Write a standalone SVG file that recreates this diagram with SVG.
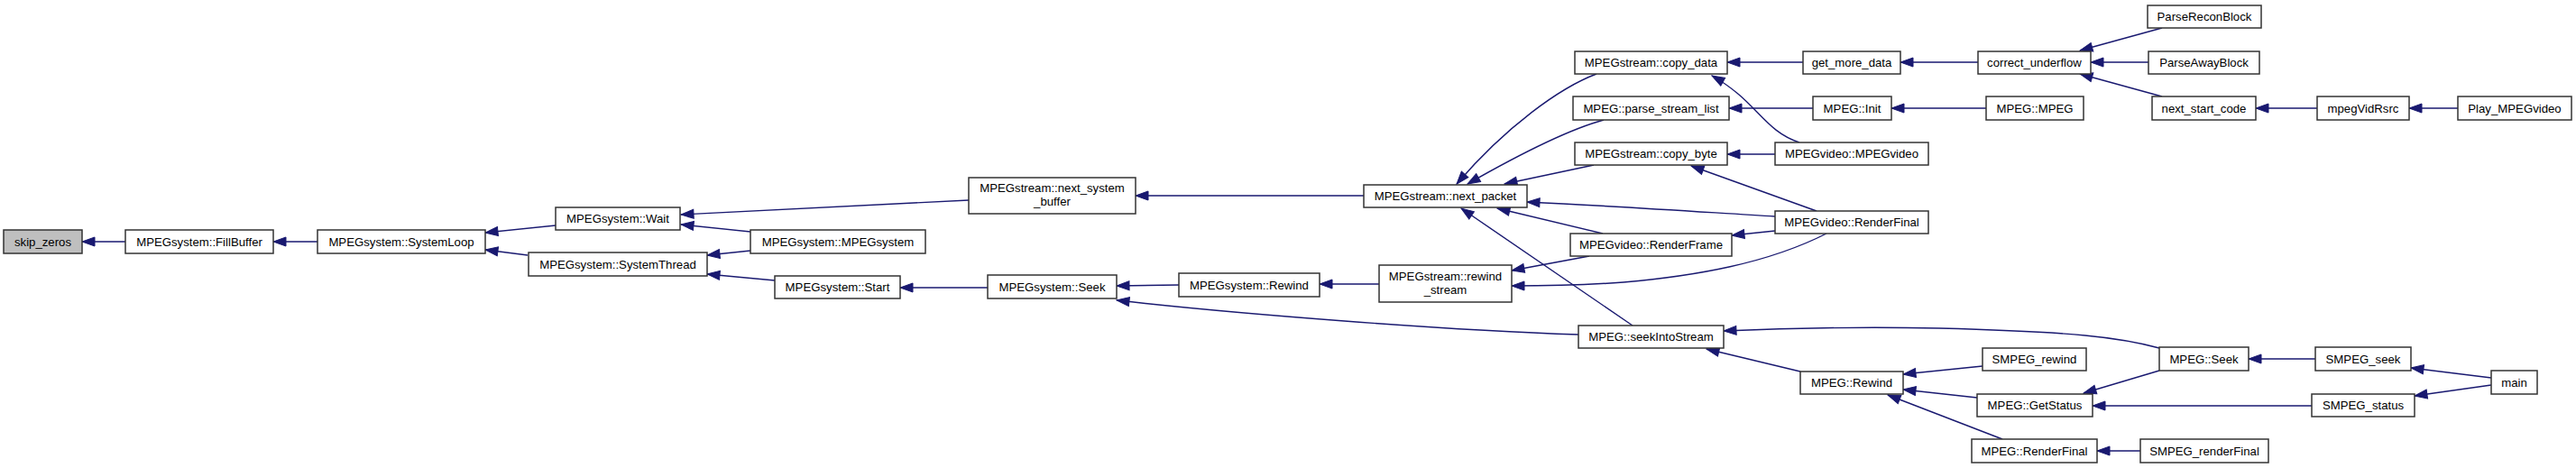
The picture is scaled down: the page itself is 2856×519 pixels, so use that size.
<svg xmlns="http://www.w3.org/2000/svg" width="2856" height="519" viewBox="0 0 2856 519">
<style>
.n rect{fill:#fff;stroke:#333;stroke-width:1.5}
.n text{font-family:"Liberation Sans",Arial,sans-serif;font-size:13.2px;text-anchor:middle;fill:#000}
#n_skip_zeros rect{fill:#bfbfbf}
.e path{fill:none;stroke:#191970;stroke-width:1.4;marker-end:url(#a)}
</style>
<defs>
<marker id="a" markerUnits="userSpaceOnUse" markerWidth="16" markerHeight="12" refX="14" refY="5" orient="auto" overflow="visible"><path d="M0,0 L14,5 L0,10 Z" fill="#191970" stroke="#191970" stroke-width="1"/></marker>
</defs>
<rect width="2856" height="519" fill="#fff"/>
<g id="edges" class="e">
<path d="M139,268 L91,268"/>
<path d="M352,268 L303,268"/>
<path d="M616,250 L538,258"/>
<path d="M585,283 L538,277"/>
<path d="M1074,222 L755,238"/>
<path d="M832,257 L755,249"/>
<path d="M832,278 L784,283"/>
<path d="M859,311 L784,304"/>
<path d="M1095,319 L998,319"/>
<path d="M1307,316 L1238,317"/>
<path d="M1750,371 C1600,366 1370,348 1238,333"/>
<path d="M1529,315 L1463,315"/>
<path d="M1512,217 L1259,217"/>
<path d="M1770,82 C1730,97 1670,140 1615,204"/>
<path d="M1778,133 C1745,142 1690,168 1627,204"/>
<path d="M1767,183 L1668,204"/>
<path d="M1968,240 C1900,236 1800,229 1693,224"/>
<path d="M1777,259 L1660,231"/>
<path d="M1810,361 L1620,231"/>
<path d="M1999,69 L1915,69"/>
<path d="M1995,158 C1955,145 1948,112 1898,84"/>
<path d="M2010,120 L1917,120"/>
<path d="M1968,171 L1915,171"/>
<path d="M2014,234 L1875,184"/>
<path d="M1968,256 L1920,261"/>
<path d="M2025,259 C1960,292 1880,306 1800,313 C1760,316 1720,317 1676,317"/>
<path d="M1762,284 L1676,300"/>
<path d="M2193,69 L2107,69"/>
<path d="M2202,120 L2097,120"/>
<path d="M2397,31 L2306,56"/>
<path d="M2382,69 L2318,69"/>
<path d="M2397,107 L2306,82"/>
<path d="M2569,120 L2501,120"/>
<path d="M2725,120 L2671,120"/>
<path d="M2394,386 C2350,374 2300,368 2150,364 C2050,362 1980,364 1911,367"/>
<path d="M1996,412 L1892,387"/>
<path d="M2198,406 L2110,415"/>
<path d="M2192,441 L2110,432"/>
<path d="M2220,487 L2093,438"/>
<path d="M2394,411 L2310,436"/>
<path d="M2563,450 L2320,450"/>
<path d="M2373,500 L2325,500"/>
<path d="M2567,398 L2493,398"/>
<path d="M2762,419 L2673,408"/>
<path d="M2762,427 L2677,439"/>
</g>
<g id="n_skip_zeros" class="n"><rect x="4" y="255" width="87" height="26"/><text x="47.5" y="272.6">skip_zeros</text></g>
<g id="n_fillbuffer" class="n"><rect x="139" y="255" width="164" height="26"/><text x="221" y="272.6">MPEGsystem::FillBuffer</text></g>
<g id="n_systemloop" class="n"><rect x="352" y="255" width="186" height="26"/><text x="445" y="272.6">MPEGsystem::SystemLoop</text></g>
<g id="n_wait" class="n"><rect x="616" y="230" width="138" height="25"/><text x="685" y="247.1">MPEGsystem::Wait</text></g>
<g id="n_systemthread" class="n"><rect x="586" y="280" width="198" height="26"/><text x="685" y="297.6">MPEGsystem::SystemThread</text></g>
<g id="n_mpegsystem" class="n"><rect x="832" y="255" width="194" height="26"/><text x="929" y="272.6">MPEGsystem::MPEGsystem</text></g>
<g id="n_start" class="n"><rect x="859" y="306" width="139" height="25"/><text x="928.5" y="323.1">MPEGsystem::Start</text></g>
<g id="n_next_system_buffer" class="n"><rect x="1074" y="197" width="185" height="40"/><text x="1166.5" y="213">MPEGstream::next_system</text><text x="1166.5" y="228">_buffer</text></g>
<g id="n_seek" class="n"><rect x="1095" y="305" width="143" height="26"/><text x="1166.5" y="322.6">MPEGsystem::Seek</text></g>
<g id="n_sys_rewind" class="n"><rect x="1307" y="303" width="156" height="26"/><text x="1385" y="320.6">MPEGsystem::Rewind</text></g>
<g id="n_next_packet" class="n"><rect x="1512" y="205" width="181" height="25"/><text x="1602.5" y="222.1">MPEGstream::next_packet</text></g>
<g id="n_rewind_stream" class="n"><rect x="1529" y="294" width="147" height="41"/><text x="1602.5" y="311">MPEGstream::rewind</text><text x="1602.5" y="326">_stream</text></g>
<g id="n_copy_data" class="n"><rect x="1746" y="57" width="169" height="25"/><text x="1830.5" y="74.1">MPEGstream::copy_data</text></g>
<g id="n_parse_stream_list" class="n"><rect x="1744" y="107" width="173" height="26"/><text x="1830.5" y="124.6">MPEG::parse_stream_list</text></g>
<g id="n_copy_byte" class="n"><rect x="1746" y="158" width="169" height="25"/><text x="1830.5" y="175.1">MPEGstream::copy_byte</text></g>
<g id="n_renderframe" class="n"><rect x="1741" y="259" width="179" height="25"/><text x="1830.5" y="276.1">MPEGvideo::RenderFrame</text></g>
<g id="n_seekintostream" class="n"><rect x="1750" y="361" width="161" height="25"/><text x="1830.5" y="378.1">MPEG::seekIntoStream</text></g>
<g id="n_get_more_data" class="n"><rect x="1999" y="57" width="108" height="25"/><text x="2053" y="74.1">get_more_data</text></g>
<g id="n_init" class="n"><rect x="2010" y="107" width="87" height="26"/><text x="2053.5" y="124.6">MPEG::Init</text></g>
<g id="n_mpegvideo" class="n"><rect x="1968" y="158" width="170" height="25"/><text x="2053" y="175.1">MPEGvideo::MPEGvideo</text></g>
<g id="n_video_renderfinal" class="n"><rect x="1968" y="234" width="170" height="25"/><text x="2053" y="251.1">MPEGvideo::RenderFinal</text></g>
<g id="n_mpeg_rewind" class="n"><rect x="1996" y="412" width="114" height="25"/><text x="2053" y="429.1">MPEG::Rewind</text></g>
<g id="n_correct_underflow" class="n"><rect x="2193" y="57" width="125" height="25"/><text x="2255.5" y="74.1">correct_underflow</text></g>
<g id="n_mpeg_mpeg" class="n"><rect x="2202" y="107" width="108" height="26"/><text x="2256" y="124.6">MPEG::MPEG</text></g>
<g id="n_smpeg_rewind" class="n"><rect x="2198" y="386" width="115" height="25"/><text x="2255.5" y="403.1">SMPEG_rewind</text></g>
<g id="n_getstatus" class="n"><rect x="2192" y="437" width="128" height="25"/><text x="2256" y="454.1">MPEG::GetStatus</text></g>
<g id="n_mpeg_renderfinal" class="n"><rect x="2186" y="487" width="139" height="26"/><text x="2255.5" y="504.6">MPEG::RenderFinal</text></g>
<g id="n_parsereconblock" class="n"><rect x="2381" y="6" width="126" height="25"/><text x="2444" y="23.1">ParseReconBlock</text></g>
<g id="n_parseawayblock" class="n"><rect x="2382" y="57" width="123" height="25"/><text x="2443.5" y="74.1">ParseAwayBlock</text></g>
<g id="n_next_start_code" class="n"><rect x="2386" y="107" width="115" height="26"/><text x="2443.5" y="124.6">next_start_code</text></g>
<g id="n_mpeg_seek" class="n"><rect x="2394" y="385" width="99" height="26"/><text x="2443.5" y="402.6">MPEG::Seek</text></g>
<g id="n_smpeg_renderfinal" class="n"><rect x="2373" y="487" width="142" height="26"/><text x="2444" y="504.6">SMPEG_renderFinal</text></g>
<g id="n_mpegvidrsrc" class="n"><rect x="2569" y="107" width="102" height="26"/><text x="2620" y="124.6">mpegVidRsrc</text></g>
<g id="n_smpeg_seek" class="n"><rect x="2567" y="385" width="106" height="26"/><text x="2620" y="402.6">SMPEG_seek</text></g>
<g id="n_smpeg_status" class="n"><rect x="2563" y="437" width="114" height="25"/><text x="2620" y="454.1">SMPEG_status</text></g>
<g id="n_play_mpegvideo" class="n"><rect x="2725" y="107" width="126" height="26"/><text x="2788" y="124.6">Play_MPEGvideo</text></g>
<g id="n_main" class="n"><rect x="2762" y="411" width="51" height="26"/><text x="2787.5" y="428.6">main</text></g>
</svg>
